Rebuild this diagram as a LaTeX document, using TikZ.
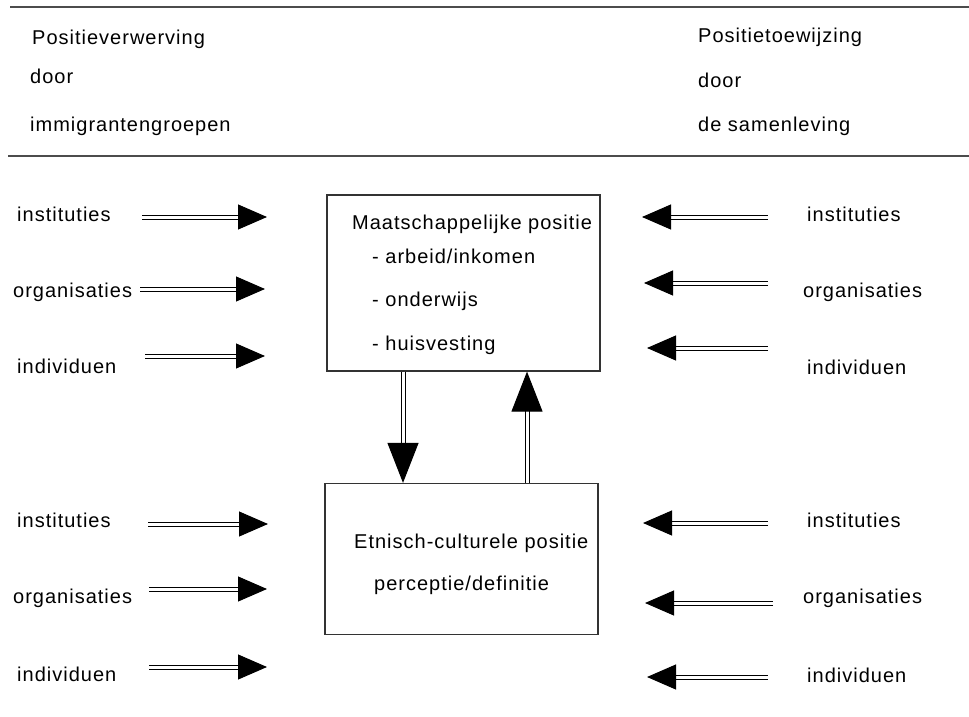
\documentclass[tikz,border=0pt]{standalone}
\usepackage{fontspec}
\setmainfont{Liberation Sans}[LetterSpace=5]
\usetikzlibrary{arrows.meta,positioning}
\tikzset{
  txt/.style={anchor=base west,inner sep=0pt,font=\fontsize{20}{24}\selectfont},
  rule/.style={draw=black!70,line width=1.2pt},
  posbox/.style={draw=black!80,line width=1.2pt,minimum width=273pt,inner sep=0pt},
  hollow/.style={double=white,double distance=3pt,line width=1pt,
    -{Triangle[length=29pt,width=25pt]}},
  hollowbig/.style={hollow,-{Triangle[length=40pt,width=31pt]}}
}
\begin{document}
\begin{tikzpicture}[x=1pt,y=-1pt]
  \useasboundingbox (0,0) rectangle (969,717);
  % header
  \draw[rule] (10,7) -- (969,7);
  \draw[rule] (8,156) -- (969,156);
  \node[txt] (hl1) at (32,45) {Positieverwerving};
  \node[txt] (hl2) at (30,84) {door};
  \node[txt] (hl3) at (30,131) {immigrantengroepen};
  \node[txt] (hr1) at (698,43) {Positietoewijzing};
  \node[txt] (hr2) at (698,87) {door};
  \node[txt] (hr3) at (698,131) {de samenleving};
  % positions
  \node[posbox,minimum height=176pt] (mp) at (463.5,283) {};
  \node[posbox,minimum height=151pt] (ec) at (461.5,559) {};
  \node[txt] (mpt) at (352,229) {Maatschappelijke positie};
  \node[txt] (mp1) at (372,263) {- arbeid/inkomen};
  \node[txt] (mp2) at (372,306) {- onderwijs};
  \node[txt] (mp3) at (372,350) {- huisvesting};
  \node[txt] (ect) at (354,548) {Etnisch-culturele positie};
  \node[txt] (ec1) at (374,590) {perceptie/definitie};
  \coordinate (down) at (403,0);
  \coordinate (up) at (527,0);
  \draw[hollowbig] (down |- mp.south) -- (down |- ec.north);
  \draw[hollowbig] (up |- ec.north) -- (up |- mp.south);
  % left side
  \node[txt] (li1) at (17,221) {instituties};
  \node[txt] (lo1) at (13,297) {organisaties};
  \node[txt] (ld1) at (17,373) {individuen};
  \node[txt] (li2) at (17,527) {instituties};
  \node[txt] (lo2) at (13,603) {organisaties};
  \node[txt] (ld2) at (17,681) {individuen};
  \foreach \i/\y/\xa/\xb in {1/217/142/267,2/289/140/265,3/356/145/265,
                             4/524/148/268,5/589/149/267,6/667/149/267}{
    \coordinate (lfrom\i) at (\xa,\y);
    \coordinate (lto\i) at (\xb,\y);
    \draw[hollow] (lfrom\i) -- (lto\i);
  }
  % right side
  \node[txt] (ri1) at (807,221) {instituties};
  \node[txt] (ro1) at (803,297) {organisaties};
  \node[txt] (rd1) at (807,374) {individuen};
  \node[txt] (ri2) at (807,527) {instituties};
  \node[txt] (ro2) at (803,603) {organisaties};
  \node[txt] (rd2) at (807,682) {individuen};
  \foreach \i/\y/\xa/\xb in {1/217/768/642,2/283/768/644,3/348/768/647,
                             4/523/768/643,5/603/773/645,6/677/768/647}{
    \coordinate (rfrom\i) at (\xa,\y);
    \coordinate (rto\i) at (\xb,\y);
    \draw[hollow] (rfrom\i) -- (rto\i);
  }
\end{tikzpicture}
\end{document}
